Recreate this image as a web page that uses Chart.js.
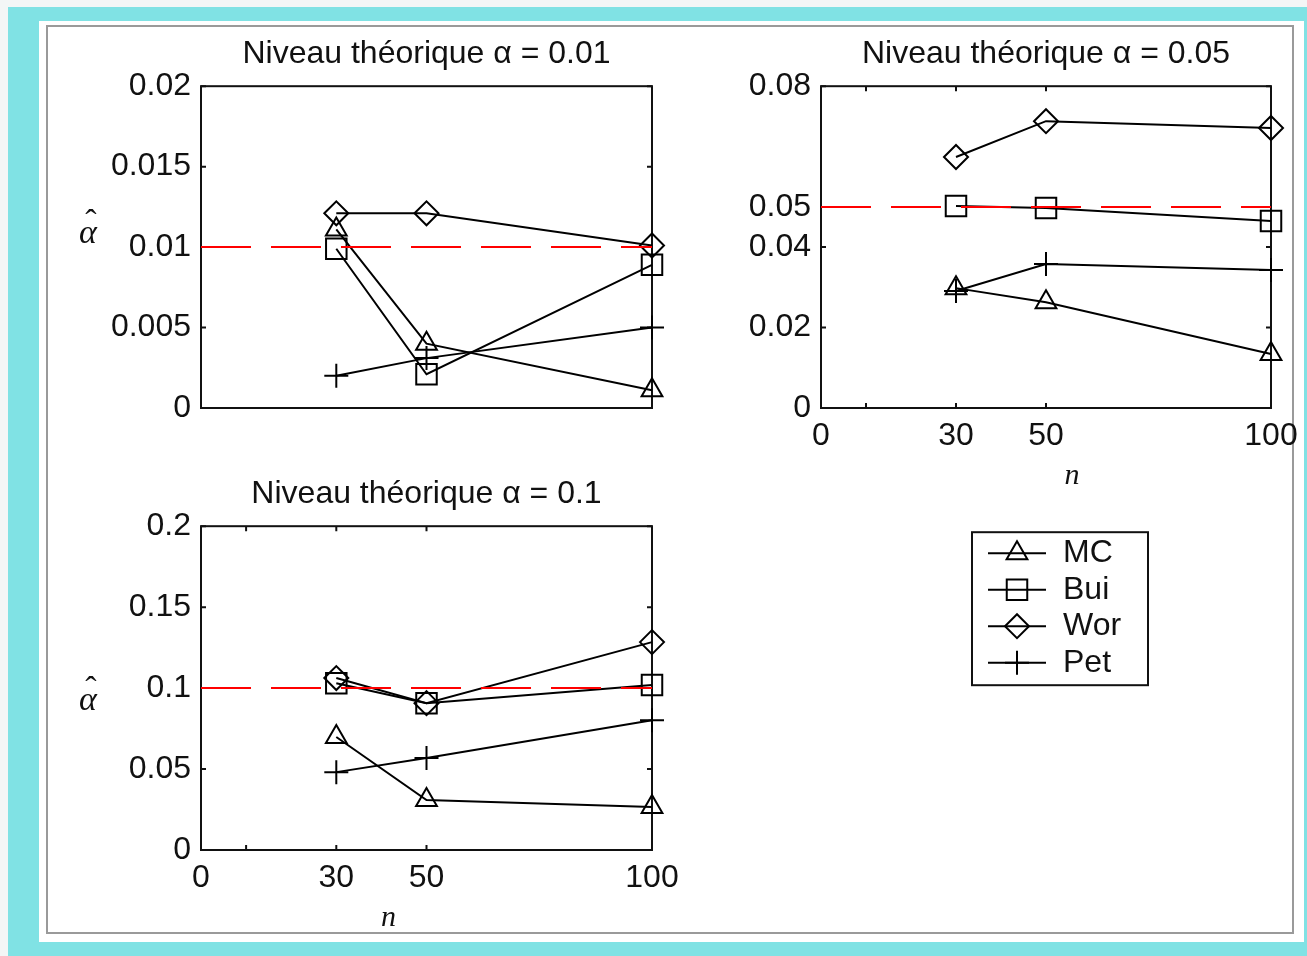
<!DOCTYPE html>
<html>
<head>
<meta charset="utf-8">
<script src="https://cdn.jsdelivr.net/npm/chart.js@4.4.0/dist/chart.umd.min.js"></script>
<style>
  body { margin:0; background:#f3f6f6; width:1307px; height:956px; overflow:hidden; position:relative; }
  #cyan  { position:absolute; left:8px; top:7px; width:1299px; height:949px; background:#80e2e4; }
  #panel { position:absolute; left:39px; top:21px; width:1265px; height:921px; background:#fff; }
  #frame { position:absolute; left:46px; top:25px; width:1248px; height:909px; border:2px solid #9a9a9a; box-sizing:border-box; }
  canvas { position:absolute; }
</style>
</head>
<body>
<div id="cyan"></div>
<div id="panel"></div>
<div id="frame"></div>
<canvas id="c01"></canvas>
<canvas id="c05"></canvas>
<canvas id="c10"></canvas>
<script>
// sample sizes and ticks
const nValues     = [30, 50, 100];
const xTickVals   = [0, 10, 30, 50, 100];
const xTickLabels = ['0', '', '30', '50', '100'];

// niveau 0.01
const mc01  = [0.0111, 0.0040, 0.0011];
const bui01 = [0.0099, 0.0021, 0.0089];
const wor01 = [0.0121, 0.0121, 0.0101];
const pet01 = [0.0020, 0.0031, 0.0050];
const yTicks01 = [0, 0.005, 0.01, 0.015, 0.02];

// niveau 0.05
const mc05  = [0.0298, 0.0263, 0.0134];
const bui05 = [0.0502, 0.0497, 0.0465];
const wor05 = [0.0624, 0.0713, 0.0696];
const pet05 = [0.0291, 0.0358, 0.0343];
const yTicks05 = [0, 0.02, 0.04, 0.05, 0.08];

// niveau 0.1
const mc10  = [0.0698, 0.0309, 0.0265];
const bui10 = [0.1030, 0.0907, 0.1019];
const wor10 = [0.1062, 0.0907, 0.1284];
const pet10 = [0.0481, 0.0568, 0.0802];
const yTicks10 = [0, 0.05, 0.1, 0.15, 0.2];

const YW = 150, PADR = 150, XH = 90;
const FS = 32, TFS = 32;
const TH = 32 + TFS * 0.6;
const SANS = '"Liberation Sans", Arial, sans-serif';
const SERIF = '"Liberation Serif", "DejaVu Serif", serif';

Chart.defaults.font.family = SANS;
Chart.defaults.color = '#111';

function pts(vals) {
  return nValues.map((n, i) => ({ x: n, y: vals[i] }));
}

function serie(label, vals, style, r) {
  return {
    label, data: pts(vals), borderColor: '#000', borderWidth: 2,
    pointStyle: style, pointRadius: r, pointBorderWidth: 2,
    pointBorderColor: '#000', pointBackgroundColor: 'rgba(0,0,0,0)',
    tension: 0, clip: false
  };
}

function buildSets(mc, bui, wor, pet, level) {
  return [
    { label: 'ref', data: [{ x: 0, y: level }, { x: 100, y: level }], borderColor: '#ff0000',
      borderWidth: 2, borderDash: [50, 20], pointRadius: 0 },
    serie('MC', mc, 'triangle', 12),
    serie('Bui', bui, 'rect', 14.5),
    serie('Wor', wor, 'rectRot', 12),
    serie('Pet', pet, 'cross', 12)
  ];
}

// box + inward ticks
const framePlugin = {
  id: 'frame',
  beforeDatasetsDraw(chart, args, o) {
    const { ctx, chartArea: a, scales } = chart;
    ctx.save();
    ctx.strokeStyle = '#111';
    ctx.lineWidth = 2;
    ctx.strokeRect(a.left, a.top, a.width, a.height);
    const L = 5;
    ctx.beginPath();
    scales.y.ticks.forEach(t => {
      const y = scales.y.getPixelForValue(t.value);
      ctx.moveTo(a.left, y); ctx.lineTo(a.left + L, y);
      ctx.moveTo(a.right, y); ctx.lineTo(a.right - L, y);
    });
    if (o.xTicks) {
      scales.x.ticks.forEach(t => {
        const x = scales.x.getPixelForValue(t.value);
        ctx.moveTo(x, a.bottom); ctx.lineTo(x, a.bottom - L);
        ctx.moveTo(x, a.top); ctx.lineTo(x, a.top + L);
      });
    }
    ctx.stroke();
    ctx.restore();
  }
};

// axis names kept upright: alpha-hat on the left, n below
const axisNamePlugin = {
  id: 'axisNames',
  afterDraw(chart, args, o) {
    const { ctx, chartArea: a } = chart;
    ctx.save();
    ctx.fillStyle = '#111';
    ctx.textAlign = 'center';
    ctx.textBaseline = 'middle';
    if (o.alphaDy !== undefined) {
      const x = a.left - 113, y = a.top + o.alphaDy;
      ctx.font = 'italic 34px ' + SERIF;
      ctx.fillText('\u03B1', x, y + 4);
      ctx.font = '34px ' + SERIF;
      ctx.fillText('\u02C6', x + 3, y - 6);
    }
    if (o.nDx !== undefined) {
      ctx.font = 'italic 30px ' + SERIF;
      ctx.fillText('n', (a.left + a.right) / 2 + o.nDx, a.bottom + 68);
    }
    ctx.restore();
  }
};

// boxed legend with line through marker
const boxLegendPlugin = {
  id: 'boxLegend',
  afterDraw(chart, args, o) {
    if (!o.show) return;
    const { ctx, chartArea: a } = chart;
    const bx = a.left + 151, by = a.top + 446, bw = 176, bh = 153;
    ctx.save();
    ctx.strokeStyle = '#111';
    ctx.lineWidth = 2;
    ctx.strokeRect(bx, by, bw, bh);
    const sets = chart.data.datasets.filter(d => d.label !== 'ref');
    sets.forEach((d, i) => {
      const y = by + 21 + i * 36.5;
      ctx.strokeStyle = '#000';
      ctx.lineWidth = 2;
      ctx.beginPath();
      ctx.moveTo(bx + 16, y); ctx.lineTo(bx + 74, y);
      ctx.stroke();
      ctx.fillStyle = 'rgba(0,0,0,0)';
      Chart.helpers.drawPoint(ctx, {
        pointStyle: d.pointStyle, radius: d.pointRadius, borderWidth: 2, rotation: 0
      }, bx + 45, y);
      ctx.fillStyle = '#111';
      ctx.font = FS + 'px ' + SANS;
      ctx.textAlign = 'left';
      ctx.textBaseline = 'middle';
      ctx.fillText(d.label, bx + 91, y);
    });
    ctx.restore();
  }
};

function makePanel(id, left, top, w, h, cfg) {
  const cv = document.getElementById(id);
  const padB = cfg.padBottom || 0;
  const cw = YW + w + PADR, ch = TH + h + XH + padB;
  cv.width = cw; cv.height = ch;
  cv.style.left = (left - YW) + 'px';
  cv.style.top = (top - TH) + 'px';
  cv.style.width = cw + 'px';
  cv.style.height = ch + 'px';

  new Chart(cv, {
    type: 'line',
    data: { datasets: cfg.datasets },
    options: {
      responsive: false, animation: false, devicePixelRatio: 1,
      layout: { padding: { left: 0, right: 0, top: 0, bottom: padB } },
      plugins: {
        legend: { display: false },
        tooltip: { enabled: false },
        title: {
          display: true, text: cfg.title, color: '#111',
          font: { size: TFS, weight: 'normal' },
          padding: { top: 0, bottom: TH - TFS * 1.2 }
        },
        frame: { xTicks: cfg.xLabels },
        axisNames: { alphaDy: cfg.alphaDy, nDx: cfg.nDx },
        boxLegend: { show: !!cfg.legend }
      },
      scales: {
        x: {
          type: 'linear', min: 0, max: 100,
          grid: { display: false, drawTicks: false }, border: { display: false },
          afterBuildTicks: s => { s.ticks = xTickVals.map(v => ({ value: v })); },
          afterFit: s => { s.height = XH; },
          ticks: { display: cfg.xLabels, font: { size: FS }, padding: 9, autoSkip: false,
                   maxRotation: 0, callback: (v, i) => xTickLabels[i] }
        },
        y: {
          min: 0, max: cfg.yTicks[cfg.yTicks.length - 1],
          grid: { display: false, drawTicks: false }, border: { display: false },
          afterBuildTicks: s => { s.ticks = cfg.yTicks.map(v => ({ value: v })); },
          afterFit: s => { s.width = YW; },
          ticks: { font: { size: FS }, padding: 10, autoSkip: false, callback: v => String(v) }
        },
        // empty right-hand axis keeps the title centred over the plot box
        yr: {
          position: 'right', min: 0, max: 1,
          grid: { display: false, drawTicks: false }, border: { display: false },
          ticks: { display: false },
          afterFit: s => { s.width = PADR; }
        }
      }
    },
    plugins: [framePlugin, axisNamePlugin, boxLegendPlugin]
  });
}

makePanel('c01', 201, 86, 451, 322, {
  title: 'Niveau théorique \u03B1 = 0.01', yTicks: yTicks01, xLabels: false, alphaDy: 144,
  datasets: buildSets(mc01, bui01, wor01, pet01, 0.01)
});
makePanel('c05', 821, 86, 450, 322, {
  title: 'Niveau théorique \u03B1 = 0.05', yTicks: yTicks05, xLabels: true, legend: true, padBottom: 200,
  nDx: 26,
  datasets: buildSets(mc05, bui05, wor05, pet05, 0.05)
});
makePanel('c10', 201, 526, 451, 324, {
  title: 'Niveau théorique \u03B1 = 0.1', yTicks: yTicks10, xLabels: true, alphaDy: 171,
  nDx: -38,
  datasets: buildSets(mc10, bui10, wor10, pet10, 0.1)
});
</script>
</body>
</html>
